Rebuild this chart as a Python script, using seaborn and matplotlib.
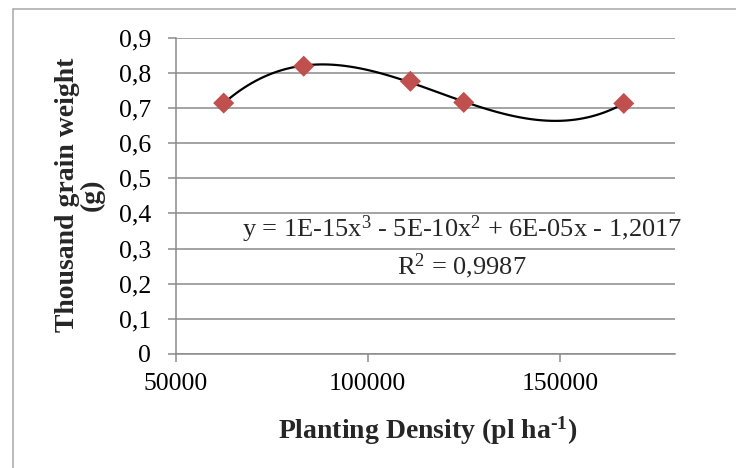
import numpy as np
import pandas as pd
import matplotlib
matplotlib.use("Agg")
import matplotlib.pyplot as plt
import seaborn as sns
from matplotlib.lines import Line2D
from matplotlib.ticker import FuncFormatter, FixedLocator

# Planting density (plants per hectare) and thousand grain weight (g)
density = [62500, 83333, 111111, 125000, 166667]
grain_weight = [0.714, 0.819, 0.776, 0.716, 0.713]

x_ticks = [50000, 100000, 150000]
y_ticks = [0.0, 0.1, 0.2, 0.3, 0.4, 0.5, 0.6, 0.7, 0.8, 0.9]

equation_label = "y = 1E-15x$^3$ - 5E-10x$^2$ + 6E-05x - 1,2017"
r2_label = "R$^2$ = 0,9987"
x_title = "Planting Density (pl ha$^{\\mathbf{\u2010}\\mathbf{1}}$)"
y_title = "Thousand grain weight\n(g)"

df = pd.DataFrame({"density": density, "weight": grain_weight})

sns.set_style("white")
plt.rcParams["font.family"] = ["Liberation Serif", "DejaVu Serif"]
plt.rcParams["mathtext.fontset"] = "custom"
plt.rcParams["mathtext.rm"] = "Liberation Serif"
plt.rcParams["mathtext.it"] = "Liberation Serif:italic"
plt.rcParams["mathtext.bf"] = "Liberation Serif:bold"

GRID = "#8a8a8a"
RED = "#C0504D"

fig = plt.figure(figsize=(7.36, 4.68), dpi=100)
ax = fig.add_axes([0.2387, 0.2436, 0.6784, 0.6758])

# third-order polynomial trendline over the data range
sns.regplot(data=df, x="density", y="weight", order=3, ci=None, scatter=False,
            truncate=True, color="black", line_kws={"linewidth": 1.6}, ax=ax)
sns.scatterplot(data=df, x="density", y="weight", marker="D", s=115,
                color=RED, edgecolor="none", linewidth=0, zorder=4, ax=ax)

ax.set_xlim(50000, 180000)
ax.set_ylim(0, 0.9)
ax.xaxis.set_major_locator(FixedLocator(x_ticks))
ax.yaxis.set_major_locator(FixedLocator(y_ticks))
ax.yaxis.set_major_formatter(FuncFormatter(
    lambda v, _: "0" if abs(v) < 1e-9 else f"{v:.1f}".replace(".", ",")))
ax.xaxis.set_major_formatter(FuncFormatter(lambda v, _: f"{int(v)}"))

ax.yaxis.grid(True, color=GRID, linewidth=1.1)
ax.xaxis.grid(False)
for side in ("top", "right"):
    ax.spines[side].set_visible(False)
for side in ("left", "bottom"):
    ax.spines[side].set_color(GRID)
    ax.spines[side].set_linewidth(1.1)

ax.tick_params(axis="both", direction="out", length=5.8, width=1.1,
               color=GRID, labelsize=18.5, labelcolor="black")
ax.tick_params(axis="y", pad=12)
ax.tick_params(axis="x", pad=8)
ax.tick_params(left=True, bottom=True)

ax.set_xlabel(x_title, fontsize=20, fontweight="bold")
ax.set_ylabel(y_title, fontsize=20, fontweight="bold", linespacing=1.0)
ax.xaxis.set_label_coords(0.505, -0.269)
ax.xaxis.label.set_va("baseline")
ax.yaxis.set_label_coords(-0.1917, 0.503)
ax.yaxis.label.set_va("center")

ax.text(0.573, 0.370, equation_label, transform=ax.transAxes, fontsize=19,
        ha="center", va="baseline")
ax.text(0.573, 0.253, r2_label, transform=ax.transAxes, fontsize=19,
        ha="center", va="baseline")

# outer frame lines
fx = 12.7 / 736
fy = 1 - 9 / 468
fig.add_artist(Line2D([fx, 1], [fy, fy], transform=fig.transFigure,
                      color="#a8a8a8", linewidth=1.1))
fig.add_artist(Line2D([fx, fx], [0, fy], transform=fig.transFigure,
                      color="#a8a8a8", linewidth=1.1))

fig.savefig("out.png", dpi=100)
